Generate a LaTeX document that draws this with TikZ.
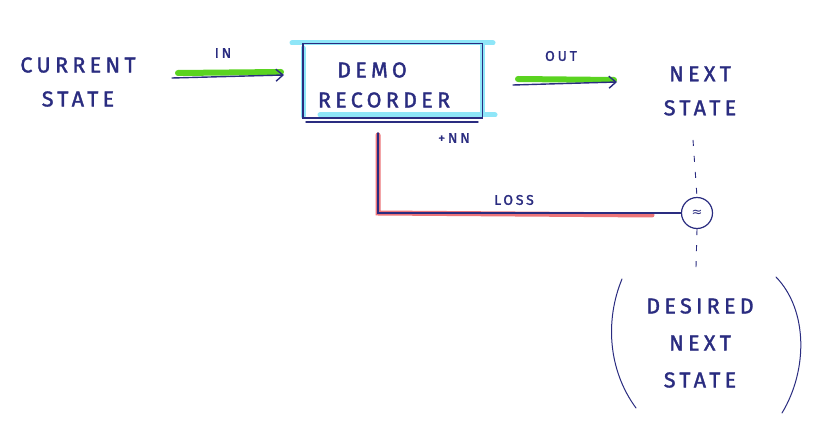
\documentclass[tikz,border=0pt]{standalone}
\usepackage{fontspec}
\setmainfont{Fira Sans}
\newfontfamily\hand[LetterSpace=20, FakeBold=1.6]{Fira Sans}
\newfontfamily\sym{DejaVu Sans}
\usetikzlibrary{arrows.meta}
\definecolor{ink}{HTML}{2A2C80}
\definecolor{hlgreen}{HTML}{5AD320}
\definecolor{hlcyan}{HTML}{8FE6F8}
\definecolor{hlred}{HTML}{EC7478}
\tikzset{
  big/.style={font=\hand\fontsize{21.5}{34}\selectfont, text=ink, align=center, inner sep=0pt},
  small/.style={font=\hand\fontsize{14}{15}\selectfont, text=ink, inner sep=0pt},
  inkline/.style={draw=ink, line width=1.4pt, line cap=round},
  greenhl/.style={draw=hlgreen, line width=6pt, line cap=round},
  cyanhl/.style={draw=hlcyan, line width=5pt, line cap=round},
  redhl/.style={draw=hlred, line width=5pt, line cap=round},
  arr/.style={inkline, -{Straight Barb[length=7pt,width=12pt]}},
  dashline/.style={draw=ink, line width=0.9pt, dash pattern=on 6pt off 10pt},
}
\begin{document}
\begin{tikzpicture}[x=1pt,y=-1pt]
\useasboundingbox[fill=white] (0,0) rectangle (838,446);
% nodes
\node[big] (cur) at (78,82) {CURRENT\\STATE};
\node[minimum width=179pt, minimum height=74pt, inner sep=0pt] (box) at (392.5,81) {};
\node[big] at (372,70) {DEMO};
\node[big] at (384,100) {RECORDER};
\node[big] (next) at (700,91) {NEXT\\STATE};
\node[draw=ink, line width=1.2pt, circle, minimum size=31pt, inner sep=0pt, font=\sym\fontsize{13}{13}\selectfont, text=ink] (circ) at (697,213) {≈};
\node[big, font=\hand\fontsize{21.5}{37}\selectfont] (des) at (700,343) {DESIRED\\NEXT\\STATE};
\node[small] at (223,53) {IN};
\node[small] at (561,56) {OUT};
\node[small] at (454,138) {+NN};
\node[small] at (514,200) {LOSS};
% box highlight
\draw[cyanhl] (292,43) -- (493,43);
\draw[cyanhl] (303,48) -- (303,116);
\draw[cyanhl] (482,44) -- (482,114);
\draw[cyanhl] (320,115) -- (495,115);
\draw[inkline] (box.north west) rectangle (box.south east);
\draw[inkline] (306,122) -- (478,122);
% IN arrow
\coordinate (inS) at (172,78);
\coordinate (inE) at (284,75);
\draw[greenhl] (178,73) -- (281,72);
\draw[arr] (inS) -- (inE);
% OUT arrow
\coordinate (outS) at (513,85);
\coordinate (outE) at (617,82);
\draw[greenhl] (518,79) -- (614,80);
\draw[arr] (outS) -- (outE);
% loss
\coordinate (lc) at (378,213);
\draw[redhl] (378,135) -- (378,213) -- (652,215);
\draw[inkline] (378,133) -- (lc) -- (circ.west);
% dashed
\draw[dashline] (693,140) -- (circ.north);
\draw[dashline] (circ.south) -- ++(-1,38);
% parentheses
\draw[inkline, line width=1pt] (622,279) .. controls (605,320) and (608,370) .. (636,408);
\draw[inkline, line width=1pt] (776,277) .. controls (808,310) and (808,370) .. (782,413);
\end{tikzpicture}
\end{document}
